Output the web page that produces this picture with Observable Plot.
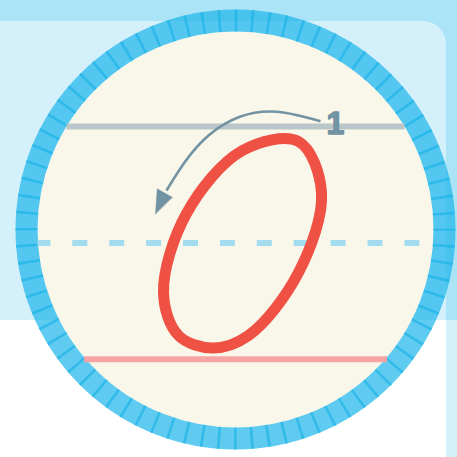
<!DOCTYPE html>
<html><head><meta charset="utf-8">
<script src="https://cdn.jsdelivr.net/npm/d3@7"></script>
<script src="https://cdn.jsdelivr.net/npm/@observablehq/plot@0.6"></script>
<style>html,body{margin:0;padding:0;background:#fff;} #chart svg{display:block;}</style>
</head><body><div id="chart"></div>
<script>
// Background blocks (page coordinates)
const blockName = ["topBand", "lowerStrip", "lowerCard"];
const blockX1 = [0, 446, -40];
const blockX2 = [457, 470, 446];
const blockY1 = [0, 320, 320];
const blockY2 = [320, 470, 470];
const panelX1 = [-40], panelX2 = [446], panelY1 = [21], panelY2 = [360];

// Round badge
const badgeX = [235], badgeY = [229];

// Writing guide lines: top, middle (dashed), base
const guideName = ["top", "middle", "base"];
const guideY = [126, 242.5, 358.7];
const guideX1 = [66.5, 37.5, 84];
const guideX2 = [404.5, 432.5, 387];

// Letter "O" centreline points (closed)
const letterX = [321, 298, 248, 212, 178, 163, 186, 242, 298];
const letterY = [192, 272, 335, 347.5, 335, 292, 213, 150, 141];

// Stroke-order arrow
const arrowX = [320, 277, 240, 208, 184, 166];
const arrowY = [120.7, 111.3, 116, 135, 162, 190];
const headX = [155, 156.7, 171.7];
const headY = [213.3, 188.3, 196.7];

// Step number
const stepLabel = ["1"], stepX = [335], stepY = [123];

const idx = a => a.map((_, i) => i);
const ringR = 209;
const tickCount = 80;
const period = 2 * Math.PI * ringR / tickCount;

const plot = Plot.plot({
  width: 457, height: 457,
  margin: 0,
  x: {domain: [0, 457], range: [0, 457], axis: null},
  y: {domain: [0, 457], range: [0, 457], axis: null},
  marks: [
    Plot.rect(idx(blockName), {x1: i => blockX1[i], x2: i => blockX2[i], y1: i => blockY1[i], y2: i => blockY2[i],
      fill: i => ["#ABE4F6", "#D4F0FB", "#FFFFFF"][i]}),
    Plot.rect(idx(panelX1), {x1: i => panelX1[i], x2: i => panelX2[i], y1: i => panelY1[i], y2: i => panelY2[i], fill: "#D4F0FB", rx: 23}),
    Plot.rect(idx(blockName).filter(i => i === 2), {x1: i => blockX1[i], x2: i => blockX2[i], y1: i => blockY1[i], y2: i => blockY2[i], fill: "#FFFFFF"}),
    Plot.dot(idx(badgeX), {x: i => badgeX[i], y: i => badgeY[i], r: 198, fill: "#F9F7E9", stroke: "none"}),
    Plot.dot(idx(badgeX), {x: i => badgeX[i], y: i => badgeY[i], r: ringR, fill: "none", stroke: "#1DB5E9", strokeOpacity: 0.7, strokeWidth: 22}),
    Plot.dot(idx(badgeX), {x: i => badgeX[i], y: i => badgeY[i], r: ringR, fill: "none", stroke: "#14B0E6", strokeOpacity: 0.6, strokeWidth: 22,
      strokeDasharray: `2.6 ${period - 2.6}`, strokeDashoffset: 1.3}),
    Plot.ruleY(idx(guideY).filter(i => i === 0), {y: i => guideY[i], x1: i => guideX1[i], x2: i => guideX2[i], stroke: "#BAC6CA", strokeWidth: 6}),
    Plot.ruleY(idx(guideY).filter(i => i === 1), {y: i => guideY[i], x1: i => guideX1[i], x2: i => guideX2[i], stroke: "#A2DCEE", strokeWidth: 6,
      strokeDasharray: "15 21.9", strokeDashoffset: 2.1}),
    Plot.ruleY(idx(guideY).filter(i => i === 2), {y: i => guideY[i], x1: i => guideX1[i], x2: i => guideX2[i], stroke: "#F8A4A4", strokeWidth: 6}),
    Plot.line(idx(letterX), {x: i => letterX[i], y: i => letterY[i], curve: "catmull-rom-closed", stroke: "#EF5245", strokeWidth: 11}),
    Plot.line(idx(arrowX), {x: i => arrowX[i], y: i => arrowY[i], curve: "natural", stroke: "#7293A3", strokeWidth: 2.6, strokeLinecap: "butt"}),
    Plot.line(idx(headX), {x: i => headX[i], y: i => headY[i], curve: "linear-closed", stroke: "#7293A3", strokeWidth: 0.5, fill: "#7293A3"}),
    Plot.text(idx(stepLabel), {x: i => stepX[i], y: i => stepY[i], text: i => stepLabel[i], fill: "#7293A3", stroke: "#7293A3", strokeWidth: 1.5,
      fontSize: 32, fontWeight: "bold", fontFamily: "Liberation Sans, Arial, sans-serif", textAnchor: "middle"})
  ]
});
document.getElementById("chart").appendChild(plot);
</script></body></html>
